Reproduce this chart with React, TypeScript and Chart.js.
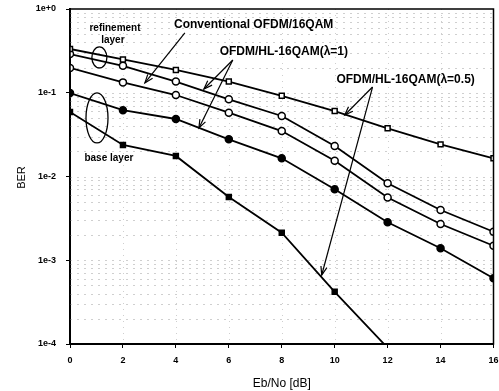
import React, { useEffect, useRef } from "react";
import { Chart, registerables } from "chart.js";

Chart.register(...registerables);

// ---- data ----
const ebNo = [0, 2, 4, 6, 8, 10, 12, 14, 16];
const hl05Refinement = [0.333, 0.25, 0.187, 0.136, 0.092, 0.0605, 0.0376, 0.0242, 0.0165];
const hl1Refinement = [0.29, 0.21, 0.136, 0.0835, 0.0528, 0.0231, 0.0083, 0.00398, 0.00219];
const conventional = [0.198, 0.133, 0.094, 0.0578, 0.0349, 0.0154, 0.0056, 0.00271, 0.00149];
const hl1Base = [0.099, 0.062, 0.0486, 0.0278, 0.0165, 0.00703, 0.00284, 0.00139, 0.00061];
const hl05Base = [0.059, 0.0238, 0.0176, 0.0057, 0.00213, 0.00042, 0.00009];
const yTickValues = [1e-4, 1e-3, 1e-2, 1e-1, 1];
const yTickLabels = ["1e-4", "1e-3", "1e-2", "1e-1", "1e+0"];
const xTitle = "Eb/No [dB]";
const yTitle = "BER";

const FONT = "'Liberation Sans', Arial, sans-serif";

function pts(vals: number[]) {
  return vals.map((v, i) => ({ x: ebNo[i], y: v }));
}

function drawArrow(ctx: CanvasRenderingContext2D, x1: number, y1: number, x2: number, y2: number) {
  ctx.beginPath();
  ctx.moveTo(x1, y1);
  ctx.lineTo(x2, y2);
  ctx.stroke();
  const a = Math.atan2(y2 - y1, x2 - x1);
  const L = 9;
  const w = 0.35;
  ctx.beginPath();
  ctx.moveTo(x2 - L * Math.cos(a - w), y2 - L * Math.sin(a - w));
  ctx.lineTo(x2, y2);
  ctx.lineTo(x2 - L * Math.cos(a + w), y2 - L * Math.sin(a + w));
  ctx.stroke();
}

const annotationPlugin = {
  id: "annot",
  beforeDatasetsDraw(chart: any) {
    const { ctx, chartArea: ca, scales } = chart;
    const xs = scales.x, ys = scales.y;
    ctx.save();
    ctx.strokeStyle = "#cfcfcf";
    ctx.lineWidth = 1;
    ctx.setLineDash([2, 5]);
    for (let e = -4; e < 0; e++) {
      for (let k = 1; k <= 9; k++) {
        const v = k * Math.pow(10, e);
        if (k === 1 && e === -4) continue;
        const y = Math.round(ys.getPixelForValue(v)) + 0.5;
        ctx.beginPath();
        ctx.moveTo(ca.left, y);
        ctx.lineTo(ca.right, y);
        ctx.stroke();
      }
    }
    ctx.setLineDash([1, 5]);
    for (let xv = 2; xv < 16; xv += 2) {
      const x = Math.round(xs.getPixelForValue(xv)) + 0.5;
      ctx.beginPath();
      ctx.moveTo(x, ca.top);
      ctx.lineTo(x, ca.bottom);
      ctx.stroke();
    }
    ctx.restore();
  },
  afterDatasetsDraw(chart: any) {
    const { ctx, chartArea: ca, scales } = chart;
    const xs = scales.x, ys = scales.y;
    const px = (v: number) => xs.getPixelForValue(v);
    const py = (v: number) => ys.getPixelForValue(v);
    ctx.save();
    // frame
    ctx.strokeStyle = "#000";
    ctx.lineWidth = 1.5;
    ctx.strokeRect(ca.left, ca.top, ca.right - ca.left, ca.bottom - ca.top);

    ctx.fillStyle = "#000";
    ctx.textAlign = "center";
    ctx.textBaseline = "middle";
    // y-axis title
    ctx.save();
    ctx.translate(22, (ca.top + ca.bottom) / 2 + 1);
    ctx.rotate(-Math.PI / 2);
    ctx.font = `11px ${FONT}`;
    ctx.fillText(yTitle, 0, 0);
    ctx.restore();

    ctx.font = `bold 12px ${FONT}`;
    ctx.fillText("Conventional OFDM/16QAM", px(6.94), py(0.644));
    ctx.fillText("OFDM/HL-16QAM(λ=1)", px(8.08), py(0.307));
    ctx.fillText("OFDM/HL-16QAM(λ=0.5)", px(12.68), py(0.142));
    ctx.font = `bold 10px ${FONT}`;
    ctx.fillText("refinement", px(1.7), py(0.593));
    ctx.fillText("layer", px(1.62), py(0.426));
    ctx.fillText("base layer", px(1.47), py(0.0166));

    ctx.lineWidth = 1.3;
    ctx.beginPath();
    ctx.ellipse(px(1.11), py(0.264), 7.5, 10.5, 0, 0, Math.PI * 2);
    ctx.stroke();
    ctx.beginPath();
    ctx.ellipse(px(1.02), py(0.05), 11, 25, 0, 0, Math.PI * 2);
    ctx.stroke();

    ctx.lineWidth = 1.2;
    drawArrow(ctx, px(4.34), py(0.517), px(2.83), py(0.131));
    drawArrow(ctx, px(6.15), py(0.246), px(5.06), py(0.111));
    drawArrow(ctx, px(6.15), py(0.246), px(4.87), py(0.0379));
    drawArrow(ctx, px(11.43), py(0.117), px(10.38), py(0.0542));
    drawArrow(ctx, px(11.43), py(0.117), px(9.51), py(0.000667));
    ctx.restore();
  },
};

export default function App() {
  const ref = useRef<HTMLCanvasElement | null>(null);
  useEffect(() => {
    document.body.style.margin = "0";
    const canvas = ref.current!;
    const common = {
      borderColor: "#000",
      borderWidth: 1.8,
      pointBorderColor: "#000",
      pointBorderWidth: 1.5,
      pointRadius: (c: any) => (c.raw && c.raw.y < 1e-4 ? 0 : 3.5),
      tension: 0,
      fill: false,
    };
    const chart = new Chart(canvas, {
      type: "line",
      data: {
        datasets: [
          { ...common, label: "OFDM/HL-16QAM(λ=0.5) refinement", data: pts(hl05Refinement), pointStyle: "rect", pointBackgroundColor: "#fff" },
          { ...common, label: "OFDM/HL-16QAM(λ=1) refinement", data: pts(hl1Refinement), pointStyle: "circle", pointBackgroundColor: "#fff" },
          { ...common, label: "Conventional OFDM/16QAM", data: pts(conventional), pointStyle: "circle", pointBackgroundColor: "#fff" },
          { ...common, label: "OFDM/HL-16QAM(λ=1) base", data: pts(hl1Base), pointStyle: "circle", pointBackgroundColor: "#000" },
          { ...common, label: "OFDM/HL-16QAM(λ=0.5) base", data: pts(hl05Base), pointStyle: "rect", pointBackgroundColor: "#000" },
        ] as any,
      },
      options: {
        responsive: false,
        animation: false,
        layout: { padding: { top: 9, right: 5, left: 0, bottom: 0 } },
        plugins: { legend: { display: false }, tooltip: { enabled: false } },
        scales: {
          x: {
            type: "linear",
            min: 0,
            max: 16,
            afterFit: (s: any) => { s.height = 47; s.paddingLeft = 0; s.paddingRight = 0; },
            ticks: { stepSize: 2, color: "#000", font: { family: FONT, size: 9, weight: "bold" }, padding: 7 },
            grid: { drawOnChartArea: false, drawTicks: true, tickLength: 4, color: "#000" },
            border: { display: true, color: "#000", width: 2 },
            title: { display: true, text: xTitle, color: "#000", font: { family: FONT, size: 12 }, padding: { top: 10, bottom: 0 } },
          },
          y: {
            type: "logarithmic",
            min: 1e-4,
            max: 1,
            afterFit: (s: any) => { s.width = 70; s.paddingTop = 0; s.paddingBottom = 0; },
            afterBuildTicks: (s: any) => { s.ticks = yTickValues.map((v) => ({ value: v })); },
            ticks: {
              color: "#000",
              font: { family: FONT, size: 9, weight: "bold" },
              padding: 10,
              callback: (v: any) => {
                const i = yTickValues.findIndex((t) => Math.abs(Math.log10(t) - Math.log10(Number(v))) < 1e-6);
                return i >= 0 ? yTickLabels[i] : "";
              },
            },
            grid: { drawOnChartArea: false, drawTicks: true, tickLength: 4, color: "#000" },
            border: { display: true, color: "#000", width: 2 },
            title: { display: false },
          },
        },
      } as any,
      plugins: [annotationPlugin],
    });
    return () => chart.destroy();
  }, []);
  return (
    <div style={{ width: 499, height: 391 }}>
      <canvas ref={ref} width={499} height={391} style={{ display: "block", width: 499, height: 391 }} />
    </div>
  );
}
